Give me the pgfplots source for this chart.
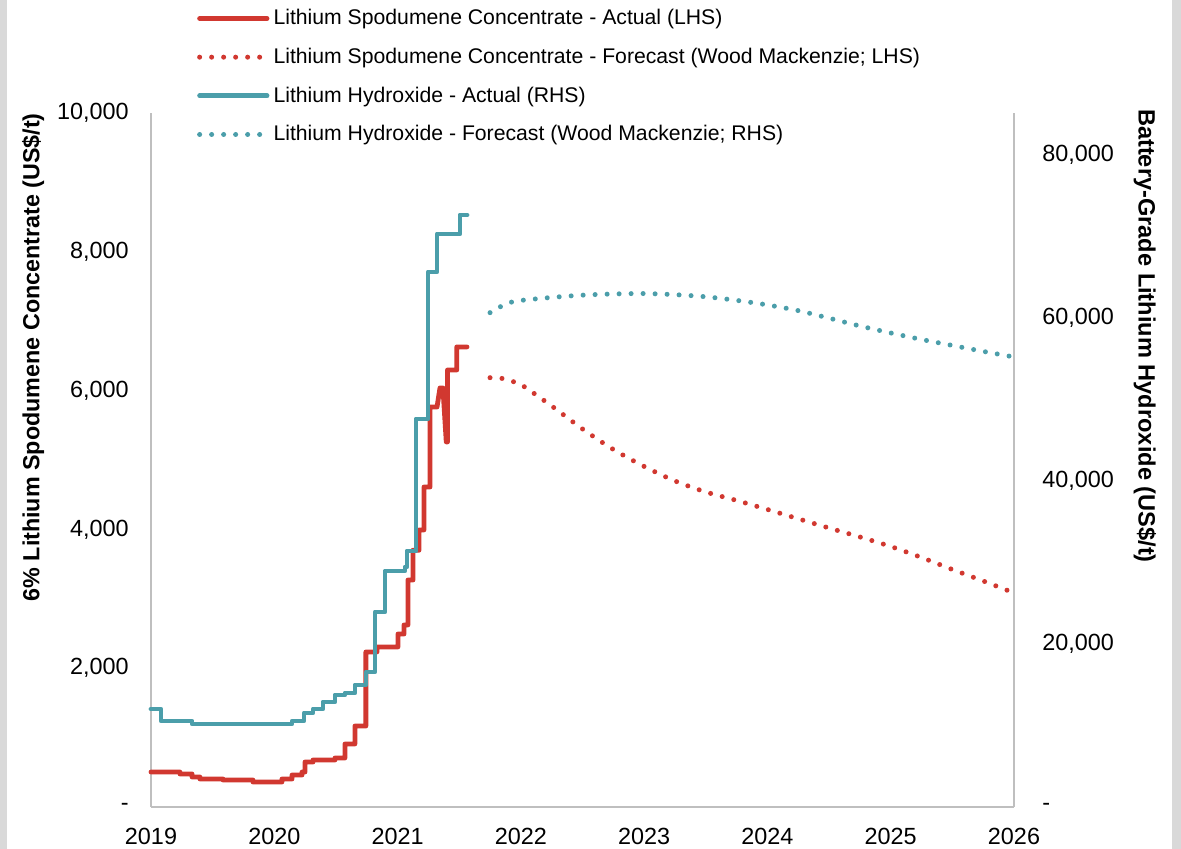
\documentclass[border=0pt]{standalone}
\usepackage{pgfplots}
\pgfplotsset{compat=1.18}
\usepackage{fontspec}
\setmainfont{Liberation Sans}
\definecolor{cred}{RGB}{209,56,48}
\definecolor{cteal}{RGB}{75,158,170}
\definecolor{cgrid}{RGB}{191,191,191}
\definecolor{cside}{RGB}{217,217,217}

\begin{document}
\begin{tikzpicture}
\useasboundingbox (0,0) rectangle (590.5pt,424.5pt);
\fill[cside] (0,0) rectangle (3.5pt,424.5pt);
\fill[cside] (586pt,0) rectangle (590.5pt,424.5pt);
\pgfplotsset{
  common/.style={
    scale only axis, width=431.5pt, height=347pt,
    at={(75.5pt,21pt)}, anchor=south west,
    xmin=2019, xmax=2026, clip=false,
    scaled x ticks=false, scaled y ticks=false,
    major tick length=0pt,
    axis line style={cgrid, line width=1.2pt},
    tick label style={font=\fontsize{11.7}{14}\selectfont, text=black},
  },
  actual/.style={line width=2.4pt, line join=round, line cap=round},
  fcast/.style={line width=2.5pt, line cap=round, dash pattern=on 0pt off 6pt},
}
\begin{axis}[common,
  axis x line*=bottom, axis y line*=left,
  ymin=0, ymax=10000,
  ytick={0,2000,4000,6000,8000,10000},
  yticklabels={-,{2,000},{4,000},{6,000},{8,000},{10,000}},
  xtick={2019,2020,2021,2022,2023,2024,2025,2026},
  xticklabels={2019,2020,2021,2022,2023,2024,2025,2026},
  yticklabel style={anchor=east, inner sep=0pt, xshift=-11pt},
  xticklabel style={anchor=north, inner sep=0pt, yshift=-10.5pt},
]
\addplot[cred, actual] table {
2019.000 504
2019.235 504
2019.235 476
2019.333 476
2019.333 432
2019.397 432
2019.397 403
2019.584 403
2019.584 389
2019.827 389
2019.827 360
2020.062 360
2020.062 403
2020.144 403
2020.144 461
2020.225 461
2020.225 504
2020.249 504
2020.249 648
2020.314 648
2020.314 677
2020.492 677
2020.492 706
2020.573 706
2020.573 908
2020.654 908
2020.654 1167
2020.743 1167
2020.743 2234
2020.833 2234
2020.833 2306
2021.003 2306
2021.003 2492
2021.052 2492
2021.052 2623
2021.084 2623
2021.084 3271
2021.125 3271
2021.125 3700
2021.174 3700
2021.174 3992
2021.214 3992
2021.214 4611
2021.263 4611
2021.263 5764
2021.320 5764
2021.344 6038
2021.368 6038
2021.395 5260
2021.405 5260
2021.405 6297
2021.480 6297
2021.480 6629
2021.563 6629
};
\addplot[cred, fcast, smooth] table {
2021.750 6186
2021.840 6178
2021.920 6134
2022.000 6088
2022.250 5778
2022.500 5447
2022.750 5152
2023.000 4907
2023.250 4698
2023.500 4539
2023.750 4417
2024.000 4287
2024.250 4153
2024.500 4020
2024.750 3891
2025.000 3754
2025.250 3595
2025.500 3422
2025.750 3257
2026.000 3084
};
\node[rotate=90, font=\bfseries\fontsize{11.65}{14}\selectfont] at (rel axis cs:-0.1367,0.648) {6\% Lithium Spodumene Concentrate (US\$/t)};
\end{axis}
\begin{axis}[common,
  axis x line=none, axis y line*=right,
  ymin=0, ymax=85150,
  ytick={0,20000,40000,60000,80000},
  yticklabels={-,{20,000},{40,000},{60,000},{80,000}},
  yticklabel style={anchor=west, inner sep=0pt, xshift=14pt},
  legend style={at={(0.053,1.1557)}, anchor=north west, draw=none, fill=none,
    inner sep=0pt, font=\fontsize{10.6}{12}\selectfont, row sep=6.15pt},
  legend cell align=left,
  legend image code/.code={\draw[#1] (0pt,0pt) -- (33.7pt,0pt);},
]
\addlegendimage{cred, actual}
\addlegendentry{Lithium Spodumene Concentrate - Actual (LHS)}
\addlegendimage{cred, fcast}
\addlegendentry{Lithium Spodumene Concentrate - Forecast (Wood Mackenzie; LHS)}
\addplot[cteal, actual, const plot] table {
2019.000 12025
2019.081 10550
2019.333 10184
2020.144 10550
2020.241 11534
2020.314 12025
2020.395 12884
2020.492 13742
2020.573 13988
2020.654 14969
2020.744 16565
2020.817 23926
2020.898 28957
2021.060 29448
2021.076 31411
2021.149 47608
2021.247 65645
2021.320 70307
2021.506 72638
2021.563 72638
};
\addlegendentry{Lithium Hydroxide - Actual (RHS)}
\addplot[cteal, fcast, smooth] table {
2021.750 60650
2021.830 61350
2021.920 61930
2022.000 62150
2022.250 62520
2022.500 62800
2022.750 62945
2023.000 62995
2023.250 62860
2023.500 62600
2023.750 62160
2024.000 61600
2024.250 60900
2024.500 59975
2024.750 59020
2025.000 58160
2025.250 57360
2025.500 56630
2025.750 55900
2026.000 55215
};
\addlegendentry{Lithium Hydroxide - Forecast (Wood Mackenzie; RHS)}
\node[rotate=-90, font=\bfseries\fontsize{11.8}{14}\selectfont] at (rel axis cs:1.1518,0.6787) {Battery-Grade Lithium Hydroxide (US\$/t)};
\end{axis}
\end{tikzpicture}
\end{document}
